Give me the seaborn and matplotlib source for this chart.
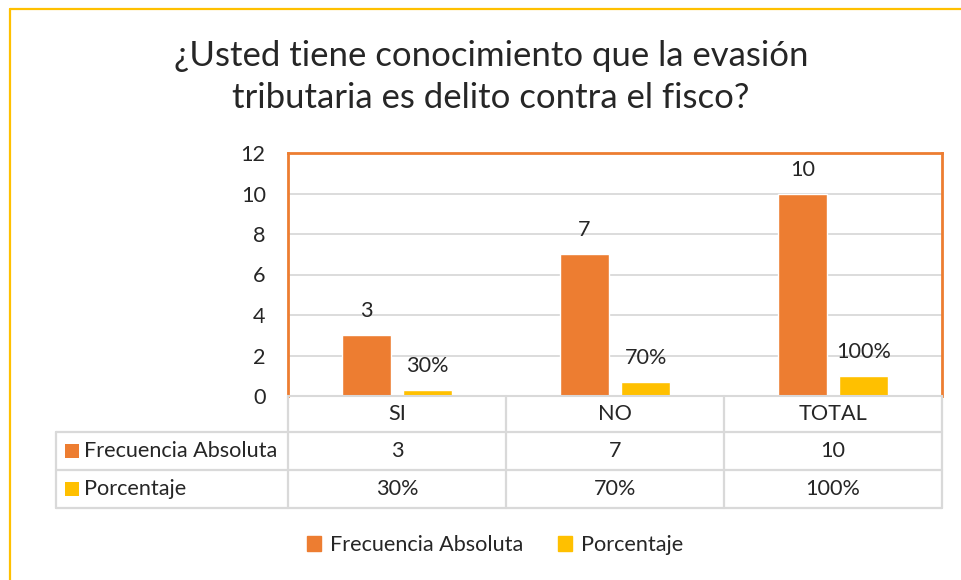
import matplotlib
matplotlib.use("Agg")
import matplotlib.pyplot as plt
import seaborn as sns
import pandas as pd
from matplotlib.lines import Line2D
from matplotlib.patches import Rectangle, Patch

# Chart data
categories = ["SI", "NO", "TOTAL"]
frecuencia = [3, 7, 10]
porcentaje = [0.30, 0.70, 1.00]
series_names = ["Frecuencia Absoluta", "Porcentaje"]
title_text = "¿Usted tiene conocimiento que la evasión\ntributaria es delito contra el fisco?"
y_ticks = [0, 2, 4, 6, 8, 10, 12]

ORANGE = "#ED7D31"
YELLOW = "#FFC000"
GRID = "#D9D9D9"
FS = 15.6

sns.set_style("white")
plt.rcParams["font.family"] = ["Lato", "DejaVu Sans"]

W, H = 961, 580


def fx(x):
    return x / W


def fy(y):
    return 1 - y / H


fig = plt.figure(figsize=(W / 100, H / 100), dpi=100)
fig.patch.set_facecolor("white")

# outer chart frame (only top and left edges visible)
fig.add_artist(Line2D([fx(10), fx(961)], [fy(9), fy(9)], color=YELLOW, lw=1.6))
fig.add_artist(Line2D([fx(10), fx(10)], [fy(9), fy(580)], color=YELLOW, lw=1.6))

# plot area
left, right, top, bottom = 288, 942, 153, 396
ax = fig.add_axes([fx(left), fy(bottom), (right - left) / W, (bottom - top) / H])

df = pd.DataFrame({
    "categoria": categories * 2,
    "serie": [series_names[0]] * len(categories) + [series_names[1]] * len(categories),
    "valor": frecuencia + porcentaje,
})
sns.barplot(data=df, x="categoria", y="valor", hue="serie",
            palette=[ORANGE, YELLOW], saturation=1, width=0.565, gap=0.21,
            ax=ax, legend=False)

ax.bar_label(ax.containers[0], labels=[str(v) for v in frecuencia],
             padding=10, fontsize=FS)
ax.bar_label(ax.containers[1], labels=[f"{v:.0%}" for v in porcentaje],
             padding=10, fontsize=FS)

ax.set_ylim(0, 12)
ax.set_xlim(-0.5, len(categories) - 0.5)
ax.set_yticks(y_ticks)
ax.set_xticks([])
ax.set_xlabel("")
ax.set_ylabel("")
ax.tick_params(axis="y", length=0, pad=16, labelsize=FS)
ax.yaxis.grid(True, color=GRID, lw=1.3)
ax.set_axisbelow(True)
for side in ["top", "left", "right"]:
    ax.spines[side].set_color(ORANGE)
    ax.spines[side].set_linewidth(2)
ax.spines["bottom"].set_color(GRID)
ax.spines["bottom"].set_linewidth(1.5)

# data table below the plot
col_edges = [288, 506, 724, 942]
row_edges = [396, 432, 470, 508]
tbl_left = 56
line_kw = dict(color=GRID, lw=1.6)
for x in col_edges:
    fig.add_artist(Line2D([fx(x), fx(x)], [fy(row_edges[0]), fy(row_edges[-1])], **line_kw))
fig.add_artist(Line2D([fx(tbl_left), fx(tbl_left)], [fy(row_edges[1]), fy(row_edges[-1])], **line_kw))
for y in row_edges[1:]:
    fig.add_artist(Line2D([fx(tbl_left), fx(col_edges[-1])], [fy(y), fy(y)], **line_kw))

col_centers = [(a + b) / 2 for a, b in zip(col_edges[:-1], col_edges[1:])]
row_centers = [(a + b) / 2 for a, b in zip(row_edges[:-1], row_edges[1:])]

for cx, cat in zip(col_centers, categories):
    fig.text(fx(cx), fy(row_centers[0]), cat, ha="center", va="center", fontsize=FS)
for cx, v in zip(col_centers, frecuencia):
    fig.text(fx(cx), fy(row_centers[1]), str(v), ha="center", va="center", fontsize=FS)
for cx, v in zip(col_centers, porcentaje):
    fig.text(fx(cx), fy(row_centers[2]), f"{v:.0%}", ha="center", va="center", fontsize=FS)

for name, color, cy in zip(series_names, [ORANGE, YELLOW], row_centers[1:]):
    fig.add_artist(Rectangle((fx(65), fy(cy + 7)), 14 / W, 14 / H, color=color, lw=0))
    fig.text(fx(84), fy(cy), name, ha="left", va="center", fontsize=FS)

# legend
handles = [Patch(color=ORANGE), Patch(color=YELLOW)]
fig.legend(handles, series_names, loc="center", bbox_to_anchor=(fx(495), fy(545)),
           ncol=2, frameon=False, fontsize=FS, handlelength=0.65, handleheight=0.65,
           handletextpad=0.4, columnspacing=1.6)

fig.text(fx(491), fy(77), title_text, ha="center", va="center",
         fontsize=25, linespacing=1.36)

fig.savefig("out.png", dpi=100)
